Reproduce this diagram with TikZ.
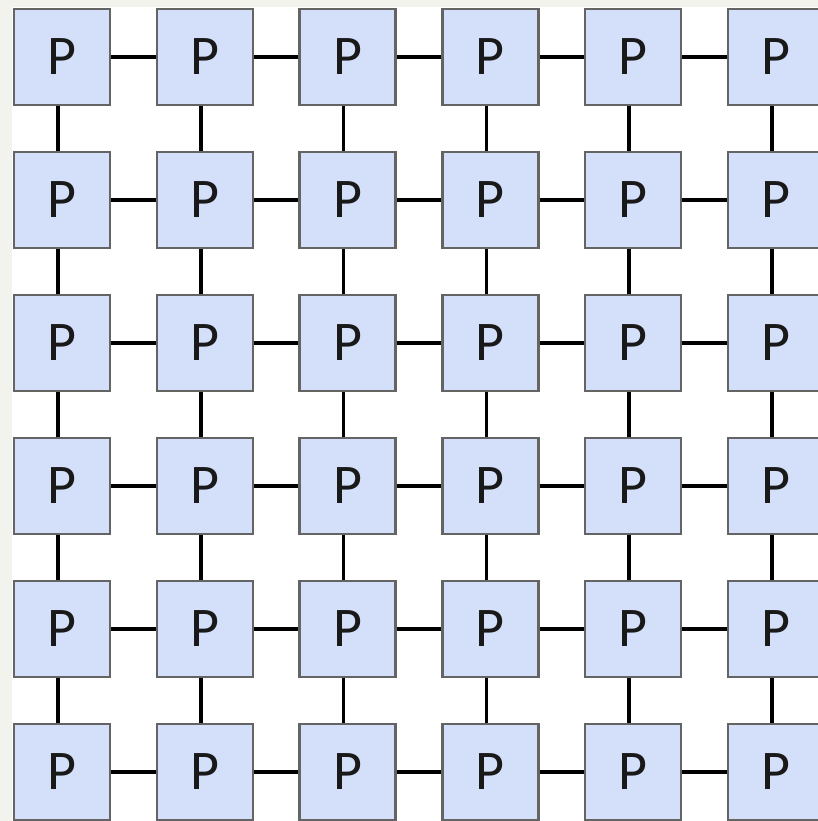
\documentclass[tikz,border=0pt]{standalone}
\usepackage{fontspec}
\setmainfont{Carlito}
\usepackage{tikz}

\definecolor{pfill}{RGB}{212,224,250}
\definecolor{pline}{RGB}{100,100,100}
\definecolor{paper}{RGB}{243,243,238}

\tikzset{
  pbox/.style={draw=pline, line width=2.5pt, fill=pfill, minimum width=96pt,
    minimum height=96pt, inner sep=0pt, text=black!90,
    font=\fontsize{56}{60}\selectfont},
  link/.style={black, line width=3.6pt}
}

\begin{document}
\begin{tikzpicture}[x=1pt, y=-1pt]
  %page
  \clip (0,0) rectangle (818,821);
  \fill[paper] (0,0) rectangle (818,821);
  \fill[white] (12,7) rectangle (818,821);

  %processors
  \foreach \i in {0,...,5}
    \foreach \j in {0,...,5}
      \node[pbox] (P\i-\j) at (62+142.8*\i, 57+143*\j) {P};

  %mesh links
  \foreach \i [count=\k from 1] in {0,...,4}
    \foreach \j in {0,...,5}
      \draw[link] (P\i-\j.east) -- (P\k-\j.west);
  \foreach \i in {0,...,5}
    \foreach \j [count=\k from 1] in {0,...,4}
      \draw[link] ([xshift=-4pt]P\i-\j.south) -- ([xshift=-4pt]P\i-\k.north);
\end{tikzpicture}
\end{document}
